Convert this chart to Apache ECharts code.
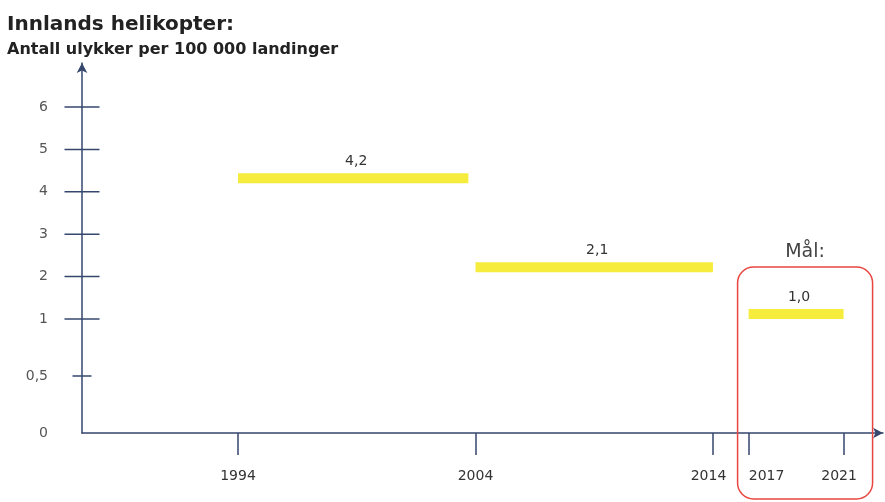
<!DOCTYPE html>
<html>
<head>
<meta charset="utf-8">
<script src="https://cdn.jsdelivr.net/npm/echarts@6/dist/echarts.min.js"></script>
<style>
html, body { margin: 0; padding: 0; background: #fff; }
#main { width: 885px; height: 502px; }
</style>
</head>
<body>
<div id="main"></div>
<script>
// periods and accident rates (per 100 000 landings)
var periodStart = [1994, 2004, 2017];
var periodEnd = [2003.7, 2014, 2021];
var rates = [4.2, 2.1, 1.0];
var rateLabels = ['4,2', '2,1', '1,0'];
var goalIndex = 2;

var yearTicks = [1994, 2004, 2014, 2017, 2021];
var yTicks = [0, 0.5, 1, 2, 3, 4, 5, 6];
var yTickLabels = ['0', '0,5', '1', '2', '3', '4', '5', '6'];

// the drawing is schematic: y is stretched below 1, x is squeezed between 2014 and 2017
function yPos(v) {
    return v <= 1 ? v * 2.69 : 2.69 + (v - 1);
}
function xPos(y) {
    if (y <= 2014) return y;
    if (y < 2017) return 2014 + (y - 2014) * 0.5;
    return 2015.5 + (y - 2017);
}

var X_MIN = 1987.43, X_MAX = 2021.16;
var Y_MIN = 0, Y_MAX = 8.73;
var axisColor = '#36476e';
var font = '"DejaVu Sans", Verdana, sans-serif';

function lookup(list, labels, fn, val) {
    for (var i = 0; i < list.length; i++) {
        if (Math.abs(fn(list[i]) - val) < 1e-6) return labels[i];
    }
    return '';
}

var chart = echarts.init(document.getElementById('main'));

var option = {
    animation: false,
    title: [
        {
            text: 'Innlands helikopter:',
            left: 7, top: 15, padding: 0,
            textStyle: { fontSize: 20, fontWeight: 'bold', color: '#222', fontFamily: font }
        },
        {
            text: 'Antall ulykker per 100 000 landinger',
            left: 7, top: 42, padding: 0,
            textStyle: { fontSize: 16, fontWeight: 'bold', color: '#222', fontFamily: font }
        }
    ],
    grid: { left: 82, right: 2, top: 63, bottom: 69 },
    xAxis: {
        type: 'value',
        min: X_MIN,
        max: X_MAX,
        splitLine: { show: false },
        axisLine: {
            show: true,
            symbol: ['none', 'arrow'],
            symbolSize: [8, 10],
            lineStyle: { color: axisColor, width: 1.5 }
        },
        axisTick: {
            show: true,
            length: 22,
            customValues: yearTicks.map(xPos),
            lineStyle: { color: axisColor, width: 1.5 }
        },
        axisLabel: {
            customValues: yearTicks.map(xPos),
            margin: 36,
            color: '#333',
            fontSize: 14,
            fontFamily: font,
            hideOverlap: false,
            formatter: function (val) {
                var s = lookup(yearTicks, yearTicks.map(String), xPos, val);
                // labels nudged off the goal box line, as in the original
                if (s === '2017') return '{r|' + s + '}';
                if (s === '2021' || s === '2014') return '{l|' + s + '}';
                return s;
            },
            rich: {
                r: { padding: [0, 0, 0, 36], fontSize: 14, fontFamily: font, color: '#333' },
                l: { padding: [0, 9, 0, 0], fontSize: 14, fontFamily: font, color: '#333' }
            }
        }
    },
    yAxis: {
        type: 'value',
        min: Y_MIN,
        max: Y_MAX,
        splitLine: { show: false },
        axisLine: {
            show: true,
            symbol: ['none', 'arrow'],
            symbolSize: [8, 10],
            lineStyle: { color: axisColor, width: 1.5 }
        },
        axisTick: { show: false },
        axisLabel: {
            customValues: yTicks.map(yPos),
            margin: 34,
            color: '#555',
            fontSize: 14,
            fontFamily: font,
            formatter: function (val) {
                return lookup(yTicks, yTickLabels, yPos, val);
            }
        }
    },
    series: [
        {
            // tick marks crossing the y axis
            type: 'custom',
            clip: false,
            silent: true,
            data: yTicks.filter(function (v) { return v > 0; }).map(function (v) {
                return [X_MIN, yPos(v), v === 0.5 ? 9.5 : 17.5];
            }),
            renderItem: function (params, api) {
                var p = api.coord([api.value(0), api.value(1)]);
                var half = api.value(2);
                return {
                    type: 'line',
                    shape: { x1: p[0] - half, y1: p[1], x2: p[0] + half, y2: p[1] },
                    style: { stroke: axisColor, lineWidth: 1.5 }
                };
            }
        },
        {
            // period bars, bottom edge at the rate
            type: 'custom',
            clip: false,
            data: rates.map(function (r, i) {
                return [xPos(periodStart[i]), xPos(periodEnd[i]), yPos(r), i];
            }),
            renderItem: function (params, api) {
                var p0 = api.coord([api.value(0), api.value(2)]);
                var p1 = api.coord([api.value(1), api.value(2)]);
                var i = api.value(3);
                var h = 10;
                return {
                    type: 'group',
                    children: [
                        {
                            type: 'rect',
                            shape: { x: p0[0], y: p0[1] - h, width: p1[0] - p0[0], height: h },
                            style: { fill: '#f6ec3e' }
                        },
                        {
                            type: 'text',
                            style: {
                                text: rateLabels[i],
                                x: (p0[0] + p1[0]) / 2 + 3,
                                y: p0[1] - h - 12,
                                align: 'center',
                                verticalAlign: 'middle',
                                fill: '#333',
                                font: '14px ' + font
                            }
                        }
                    ]
                };
            }
        },
        {
            // goal box
            type: 'custom',
            clip: false,
            silent: true,
            data: [[xPos(periodStart[goalIndex]), xPos(periodEnd[goalIndex]), yPos(rates[goalIndex])]],
            renderItem: function (params, api) {
                var p0 = api.coord([api.value(0), api.value(2)]);
                var p1 = api.coord([api.value(1), api.value(2)]);
                var left = p0[0] - 11;
                var right = p1[0] + 29;
                var top = p0[1] - 52;
                var bottom = api.getHeight() - 3;
                return {
                    type: 'group',
                    children: [
                        {
                            type: 'rect',
                            shape: { x: left, y: top, width: right - left, height: bottom - top, r: 16 },
                            style: { fill: 'none', stroke: '#e8453f', lineWidth: 1.5 }
                        },
                        {
                            type: 'text',
                            style: {
                                text: 'Mål:',
                                x: (left + right) / 2,
                                y: top - 15,
                                align: 'center',
                                verticalAlign: 'middle',
                                fill: '#444',
                                font: '19px ' + font
                            }
                        }
                    ]
                };
            }
        }
    ]
};

chart.setOption(option);
</script>
</body>
</html>
